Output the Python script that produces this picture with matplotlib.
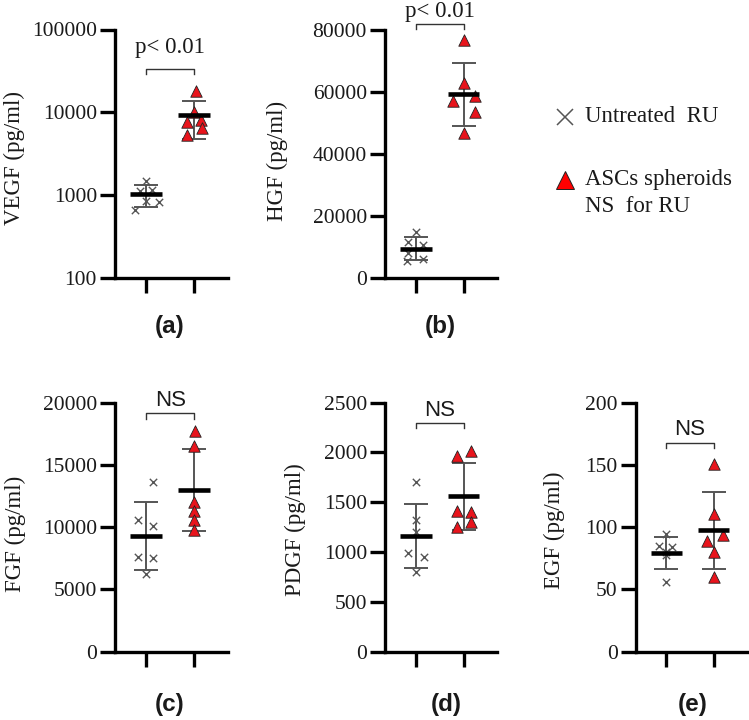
import numpy as np
import matplotlib
matplotlib.use("Agg")
import matplotlib.pyplot as plt
from matplotlib.lines import Line2D

# ---------------- data ----------------
groups = ["Untreated RU", "ASCs spheroids\nNS for RU"]

vegf_untreated = [1500, 1160, 1110, 850, 830, 665]
vegf_ascs = [18000, 10000, 7640, 8080, 6540, 5330]

hgf_untreated = [15030, 11800, 10740, 8060, 5680, 6230]
hgf_ascs = [76650, 62900, 57000, 58600, 53550, 46800]

fgf_untreated = [13650, 10570, 10090, 7630, 7500, 6210]
fgf_ascs = [17750, 16550, 12000, 11300, 10600, 9800]

pdgf_untreated = [1707, 1320, 1200, 990, 950, 800]
pdgf_ascs = [1965, 2015, 1410, 1400, 1305, 1255]

egf_untreated = [94.5, 84.5, 84, 80, 78, 56]
egf_ascs = [150.7, 111, 89, 93.7, 79.8, 60.2]

ylabels = ["VEGF (pg/ml)", "HGF (pg/ml)", "FGF (pg/ml)", "PDGF (pg/ml)", "EGF (pg/ml)"]
panel_letters = ["(a)", "(b)", "(c)", "(d)", "(e)"]
sig_texts = ["p< 0.01", "p< 0.01", "NS", "NS", "NS"]

vegf_ticks = [100, 1000, 10000, 100000]
hgf_ticks = [0, 20000, 40000, 60000, 80000]
fgf_ticks = [0, 5000, 10000, 15000, 20000]
pdgf_ticks = [0, 500, 1000, 1500, 2000, 2500]
egf_ticks = [0, 50, 100, 150, 200]

# horizontal scatter spread of the points (layout only)
off_vegf = ([0, 0.12, -0.12, 0, 0.26, -0.24], [0.04, 0, -0.15, 0.15, 0.17, -0.15])
off_hgf = ([0, -0.16, 0.15, -0.16, -0.18, 0.15], [0, 0, -0.23, 0.23, 0.23, 0])
off_fgf = ([0.15, -0.16, 0.15, -0.16, 0.15, 0], [0.02, 0, 0, 0, 0, 0])
off_pdgf = ([0, 0, 0, -0.16, 0.17, 0], [-0.14, 0.15, -0.14, 0.15, 0.15, -0.14])
off_egf = ([0, -0.16, 0.13, 0, 0, 0], [0, 0, -0.15, 0.19, 0, 0])

# ---------------- style ----------------
SERIF = ["Liberation Serif", "DejaVu Serif"]
SANS = ["Liberation Sans", "DejaVu Sans"]
RED = "#e8141c"
GREY = "#555555"

W, H = 749, 720
fig = plt.figure(figsize=(W / 100, H / 100), dpi=100)


def rect(left, top, right, bottom):
    return [left / W, 1 - bottom / H, (right - left) / W, (bottom - top) / H]


def fx(px):
    return px / W


def fy(py):
    return 1 - py / H


panels = [
    dict(pos=rect(115, 29.5, 228, 278), data=(vegf_untreated, vegf_ascs), off=off_vegf,
         ticks=vegf_ticks, log=True, ylim=(100, 100000),
         bracket=(33400, 29100, 60000), ylab=(14, 158), letter=(170, 327)),
    dict(pos=rect(385, 30, 497, 278.3), data=(hgf_untreated, hgf_ascs), off=off_hgf,
         ticks=hgf_ticks, log=False, ylim=(0, 80000),
         bracket=(81935, 80320, 85900), ylab=(277, 161), letter=(440, 327)),
    dict(pos=rect(115, 402.7, 228, 651.7), data=(fgf_untreated, fgf_ascs), off=off_fgf,
         ticks=fgf_ticks, log=False, ylim=(0, 20000),
         bracket=(19150, 18690, 20200), ylab=(15, 534), letter=(170, 704)),
    dict(pos=rect(385, 402.7, 497, 651.7), data=(pdgf_untreated, pdgf_ascs), off=off_pdgf,
         ticks=pdgf_ticks, log=False, ylim=(0, 2500),
         bracket=(2299, 2246, 2425), ylab=(295, 530), letter=(446, 704)),
    dict(pos=rect(635.7, 402.7, 747, 651.7), data=(egf_untreated, egf_ascs), off=off_egf,
         ticks=egf_ticks, log=False, ylim=(0, 200),
         bracket=(167.7, 163.5, 178.5), ylab=(554, 530), letter=(693, 704)),
]

for i, p in enumerate(panels):
    ax = fig.add_axes(p["pos"])
    ax.set_facecolor("none")
    if p["log"]:
        ax.set_yscale("log")
        ax.yaxis.set_minor_locator(matplotlib.ticker.NullLocator())
    ax.set_ylim(*p["ylim"])
    ax.set_xlim(-0.645, 1.70)
    ax.set_yticks(p["ticks"])
    ax.set_yticklabels([str(t) for t in p["ticks"]], fontfamily=SERIF, fontsize=15.5,
                       color="#1a1a1a")
    ax.set_xticks([0, 1])
    ax.set_xticklabels(["", ""])
    for s in ["top", "right"]:
        ax.spines[s].set_visible(False)
    for s in ["left", "bottom"]:
        ax.spines[s].set_linewidth(2.4)
        ax.spines[s].set_color("black")
    ax.tick_params(axis="both", direction="out", length=11, width=2.4, color="black")
    ax.tick_params(axis="y", pad=2)

    untreated, ascs = p["data"]
    off_u, off_a = p["off"]
    xs_u = np.array(off_u)
    xs_a = 1 + np.array(off_a)

    # mean +/- SD
    for gx, vals in [(0, untreated), (1, ascs)]:
        v = np.array(vals, dtype=float)
        m = v.mean()
        sd = v.std(ddof=1)
        ax.errorbar([gx], [m], yerr=[[sd], [sd]], fmt="none", ecolor=GREY,
                    elinewidth=1.4, capsize=8.5, capthick=1.4, zorder=2)
        ax.hlines(m, gx - 0.33, gx + 0.33, color="black", lw=3.3, zorder=4)

    ax.scatter(xs_u, untreated, marker="x", s=28, color=GREY, linewidths=1.0, zorder=3)
    ax.scatter(xs_a, ascs, marker="^", s=68, facecolor=RED, edgecolor="#222222",
               linewidths=0.6, zorder=3)

    # significance bracket
    yb, yt, ytext = p["bracket"]
    ax.plot([0, 0, 1, 1], [yt, yb, yb, yt], color="#333333", lw=1.0, clip_on=False)
    if sig_texts[i] == "NS":
        ax.text(0.5, ytext, sig_texts[i], ha="center", va="center", fontsize=16,
                fontfamily=SANS, color="#1a1a1a", clip_on=False)
    else:
        ax.text(0.5, ytext, sig_texts[i], ha="center", va="center", fontsize=16.5,
                fontfamily=SERIF, color="#1a1a1a", clip_on=False)

    lx, ly = p["ylab"]
    fig.text(fx(lx), fy(ly), ylabels[i], rotation=90, ha="center", va="center",
             fontsize=16.5, fontfamily=SERIF, color="#1a1a1a")
    cx, cy = p["letter"]
    fig.text(fx(cx), fy(cy), panel_letters[i], ha="center", va="center",
             fontsize=17.5, fontweight="bold", fontfamily=SANS, color="#1a1a1a")

# ---------------- legend ----------------
fig.add_artist(Line2D([fx(565)], [fy(117)], transform=fig.transFigure, marker="x",
                      markersize=11, markeredgewidth=1.1, color=GREY, linestyle="none"))
fig.add_artist(Line2D([fx(565)], [fy(180)], transform=fig.transFigure, marker="^",
                      markersize=13, markerfacecolor="#ff0000", markeredgecolor="#222222",
                      markeredgewidth=0.7, linestyle="none"))
fig.text(fx(585), fy(117), "Untreated  RU", ha="left", va="center", fontsize=16.5,
         fontfamily=SERIF, color="#1a1a1a")
fig.text(fx(585), fy(179), "ASCs spheroids", ha="left", va="center", fontsize=16.5,
         fontfamily=SERIF, color="#1a1a1a")
fig.text(fx(585), fy(206), "NS  for RU", ha="left", va="center", fontsize=16.5,
         fontfamily=SERIF, color="#1a1a1a")

fig.savefig("out.png", dpi=100)
